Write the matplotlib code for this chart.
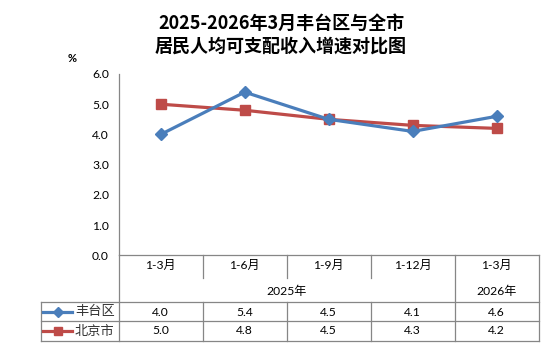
import matplotlib
matplotlib.use("Agg")
import matplotlib.pyplot as plt
from matplotlib.lines import Line2D

plt.rcParams['font.family'] = ['Lato', 'Noto Sans CJK SC', 'DejaVu Sans']

title = "2025-2026年3月丰台区与全市\n居民人均可支配收入增速对比图"
categories = ["1-3月", "1-6月", "1-9月", "1-12月", "1-3月"]
years = ["2025年", "2026年"]
year_spans = [(0, 3), (4, 4)]
series_names = ["丰台区", "北京市"]
fengtai = [4.0, 5.4, 4.5, 4.1, 4.6]
beijing = [5.0, 4.8, 4.5, 4.3, 4.2]
yticks = [0, 1, 2, 3, 4, 5, 6]

BLUE = "#4A7EBB"
RED = "#BE4B48"
GRID = "#868686"

W, H = 554, 357
fig = plt.figure(figsize=(W / 100, H / 100), dpi=100)

def fx(px):
    return px / W

def fy(py):
    return 1 - py / H

x_left, x_right = 118.7, 538.7
y_top, y_axis = 74.0, 255.3
t_left, t_bottom = 40.7, 340.7

ax = fig.add_axes([fx(x_left), fy(y_axis), (x_right - x_left) / W, (y_axis - y_top) / H])
ax.set_xlim(-0.5, len(categories) - 0.5)
ax.set_ylim(0, 6)
xs = list(range(len(categories)))
ax.plot(xs, fengtai, color=BLUE, lw=2.3, marker='D', ms=6.5, zorder=3)
ax.plot(xs, beijing, color=RED, lw=2.3, marker='s', ms=7, zorder=2)
ax.set_yticks(yticks)
ax.set_yticklabels([f"{v:.1f}" for v in yticks], fontsize=8.7)
ax.tick_params(axis='y', length=0, pad=7)
ax.set_xticks([])
for s in ['top', 'right']:
    ax.spines[s].set_visible(False)
for s in ['left', 'bottom']:
    ax.spines[s].set_color(GRID)
    ax.spines[s].set_linewidth(0.9)

fig.text(fx(72), fy(59), "%", fontsize=8, ha='center', va='center', fontweight='bold')
fig.text(fx(281), fy(35), title, fontsize=13, ha='center', va='center',
         family=['Noto Sans CJK SC'], fontweight='bold', linespacing=1.22)

# table axes
col_w_px = (x_right - x_left) / len(categories)
tx0 = -0.5 - (x_left - t_left) / col_w_px
tx1 = len(categories) - 0.5
axt = fig.add_axes([fx(t_left), fy(t_bottom), (x_right - t_left) / W, (t_bottom - y_axis) / H])
axt.set_xlim(tx0, tx1)
axt.set_ylim(t_bottom - y_axis, 0)
axt.axis('off')

def ty(py):
    return py - y_axis

lk = dict(color=GRID, lw=0.9, clip_on=False)
# horizontal lines
axt.plot([tx0, tx1], [ty(302), ty(302)], **lk)
axt.plot([tx0, tx1], [ty(321), ty(321)], **lk)
axt.plot([tx0, tx1], [ty(t_bottom), ty(t_bottom)], **lk)
# vertical lines
axt.plot([tx0, tx0], [ty(302), ty(t_bottom)], **lk)
axt.plot([-0.5, -0.5], [0, ty(t_bottom)], **lk)
axt.plot([tx1, tx1], [0, ty(t_bottom)], **lk)
for i in range(1, len(categories)):
    b = i - 0.5
    if i == 4:
        axt.plot([b, b], [0, ty(t_bottom)], **lk)
    else:
        axt.plot([b, b], [0, ty(278)], **lk)
        axt.plot([b, b], [ty(302), ty(t_bottom)], **lk)

for i, c in enumerate(categories):
    axt.text(i, ty(265.7), c, ha='center', va='center', fontsize=8.7)
for (a, b), yr in zip(year_spans, years):
    axt.text((a + b) / 2, ty(291), yr, ha='center', va='center', fontsize=8.7)

row_y = [ty(312), ty(331)]
for vals, yy in zip([fengtai, beijing], row_y):
    for i, v in enumerate(vals):
        axt.text(i, yy, f"{v:.1f}", ha='center', va='center', fontsize=8.7)

# legend keys in table
def px2tx(px):
    return tx0 + (px - t_left) / col_w_px

for name, col, mk, ms, yy in zip(series_names, [BLUE, RED], ['D', 's'], [5, 6], row_y):
    axt.add_line(Line2D([px2tx(43), px2tx(72)], [yy, yy], color=col, lw=2.3, clip_on=False))
    axt.add_line(Line2D([px2tx(58)], [yy], color=col, marker=mk, ms=ms, clip_on=False))
    axt.text(px2tx(75), yy, name, ha='left', va='center', fontsize=9.5,
             family=['Noto Sans CJK SC'], color='#333333')

fig.savefig("out.png", dpi=100)
